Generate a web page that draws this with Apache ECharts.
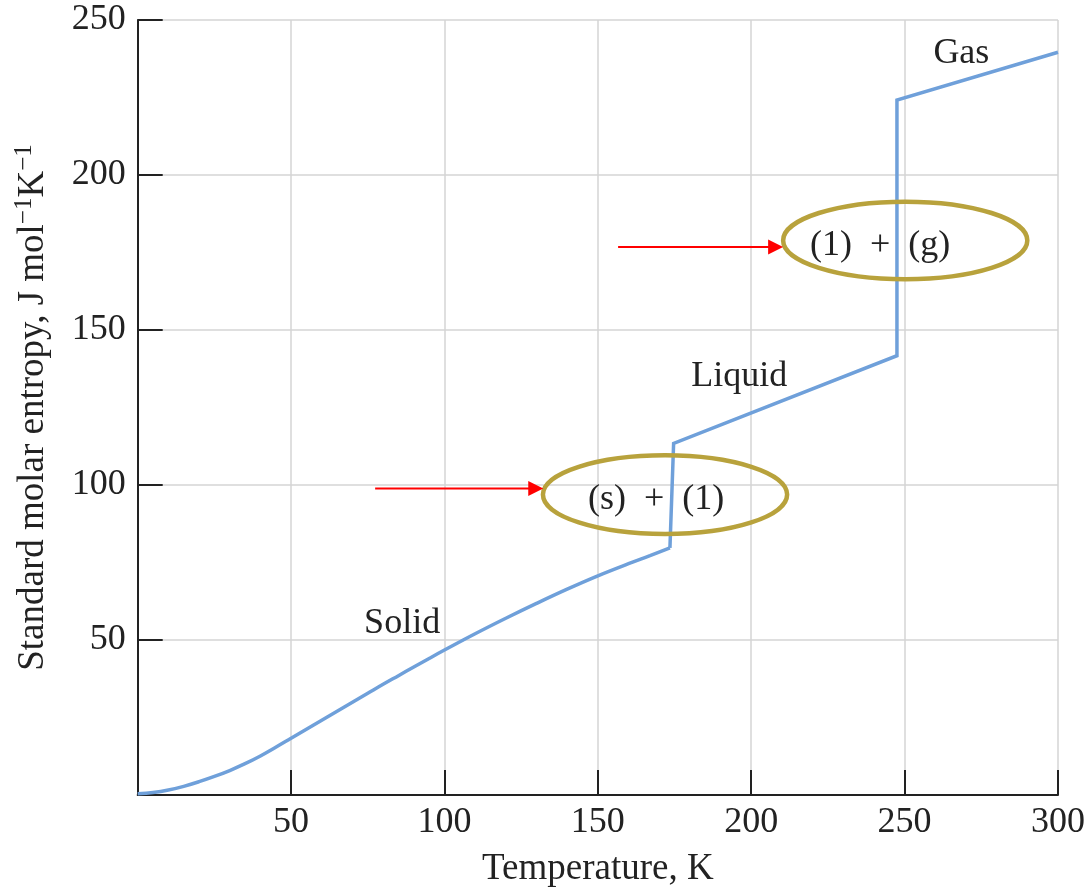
<!DOCTYPE html>
<html>
<head>
<meta charset="utf-8">
<script src="https://cdn.jsdelivr.net/npm/echarts@6/dist/echarts.min.js"></script>
<style>
html,body{margin:0;padding:0;background:#fff;}
#chart{width:1088px;height:893px;}
</style>
</head>
<body>
<div id="chart"></div>
<script>
// Solid phase (smooth curve)
const solidT = [0, 5, 10, 15, 20, 25, 30, 35, 40, 45, 50, 55, 60, 65, 70, 75, 80, 85, 90, 95, 100, 110, 120, 130, 140, 150, 160, 167, 173.5];
const solidS = [0.4, 0.8, 1.6, 2.8, 4.3, 6.0, 7.9, 10.1, 12.6, 15.4, 18.3, 21.2, 24.1, 27.0, 29.9, 32.8, 35.7, 38.5, 41.3, 44.05, 46.75, 52.0, 57.0, 61.8, 66.4, 70.7, 74.6, 77.2, 79.7];
// Melting jump, liquid, boiling jump, gas (straight segments)
const restT = [173.5, 174.7, 247.5, 247.5, 300];
const restS = [79.7, 113.4, 141.7, 224.2, 239.6];

const xTicks = [50, 100, 150, 200, 250, 300];
const yTicks = [50, 100, 150, 200, 250];

// Annotation anchors in data units
const phaseLabels = [
  {text: 'Solid', T: 86.2, S: 55.3},
  {text: 'Liquid', T: 196.1, S: 134.9},
  {text: 'Gas', T: 268.5, S: 239.3}
];
const regionLabels = [
  {text: '(s)  +  (1)', T: 169.0, S: 95.4},
  {text: '(1)  +  (g)', T: 242.0, S: 177.3}
];
const ellipses = [
  {T: 171.9, S: 96.9, rT: 39.8, rS: 12.7},
  {T: 250.2, S: 178.9, rT: 39.8, rS: 12.5}
];
const arrows = [
  {T0: 77.4, T1: 132.2, S: 98.9},
  {T0: 156.6, T1: 210.4, S: 176.8}
];

const FONT = 'Liberation Serif';
const lineColor = '#6fa0da';
const ellColor = '#b8a23c';

const chart = echarts.init(document.getElementById('chart'));
const zip = (a, b) => a.map((v, i) => [v, b[i]]);

chart.setOption({
  animation: false,
  grid: {left: 137.7, right: 30, top: 20, bottom: 95},
  xAxis: {
    type: 'value', min: 0, max: 300, interval: 50,
    name: 'Temperature, K', nameLocation: 'middle', nameGap: 56,
    nameTextStyle: {fontFamily: FONT, fontSize: 37, color: '#222'},
    axisLine: {show: true, onZero: false, lineStyle: {color: '#222', width: 2}},
    axisTick: {show: true, inside: true, length: 25, lineStyle: {color: '#222', width: 2}},
    axisLabel: {showMinLabel: false, margin: 10, fontFamily: FONT, fontSize: 36, color: '#222',
      formatter: v => xTicks.includes(v) ? String(v) : ''},
    splitLine: {show: true, lineStyle: {color: '#d4d4d4', width: 1.5}}
  },
  yAxis: {
    type: 'value', min: 0, max: 250, interval: 50,
    name: '{a|Standard molar entropy, J mol}{s|\u22121}{a|K}{s|\u22121}',
    nameLocation: 'middle', nameGap: 82,
    nameTextStyle: {
      fontFamily: FONT, color: '#222',
      rich: {
        a: {fontFamily: FONT, fontSize: 37, color: '#222', lineHeight: 44},
        s: {fontFamily: FONT, fontSize: 25, color: '#222', lineHeight: 26, verticalAlign: 'top'}
      }
    },
    axisLine: {show: true, onZero: false, lineStyle: {color: '#222', width: 2}},
    axisTick: {show: true, inside: true, length: 25, lineStyle: {color: '#222', width: 2}},
    axisLabel: {showMinLabel: false, margin: 12, fontFamily: FONT, fontSize: 36, color: '#222',
      formatter: v => yTicks.includes(v) ? String(v) : ''},
    splitLine: {show: true, lineStyle: {color: '#d4d4d4', width: 1.5}}
  },
  series: [
    {type: 'line', data: zip(solidT, solidS), smooth: 0.4, showSymbol: false,
      lineStyle: {color: lineColor, width: 3.5}, z: 3},
    {type: 'line', data: zip(restT, restS), smooth: false, showSymbol: false,
      lineStyle: {color: lineColor, width: 3.5, join: 'miter'}, z: 3}
  ]
});

const px = (T, S) => chart.convertToPixel({gridIndex: 0}, [T, S]);
const g = [];
phaseLabels.concat(regionLabels).forEach(l => {
  const p = px(l.T, l.S);
  g.push({type: 'text', x: p[0], y: p[1], z: 10,
    style: {text: l.text, fontFamily: FONT, fontSize: 36, fill: '#222', align: 'center', verticalAlign: 'middle'}});
});
ellipses.forEach(e => {
  const c = px(e.T, e.S);
  const r1 = px(e.T + e.rT, e.S);
  const r2 = px(e.T, e.S + e.rS);
  g.push({type: 'ellipse', z: 9,
    shape: {cx: c[0], cy: c[1], rx: r1[0] - c[0], ry: c[1] - r2[1]},
    style: {fill: 'none', stroke: ellColor, lineWidth: 4.5}});
});
arrows.forEach(a => {
  const p0 = px(a.T0, a.S), p1 = px(a.T1, a.S);
  g.push({type: 'line', z: 9, shape: {x1: p0[0], y1: p0[1], x2: p1[0] - 12, y2: p1[1]},
    style: {stroke: '#ff0000', lineWidth: 2}});
  g.push({type: 'polygon', z: 9,
    shape: {points: [[p1[0], p1[1]], [p1[0] - 15, p1[1] - 7.5], [p1[0] - 15, p1[1] + 7.5]]},
    style: {fill: '#ff0000'}});
});
chart.setOption({graphic: g});
</script>
</body>
</html>
